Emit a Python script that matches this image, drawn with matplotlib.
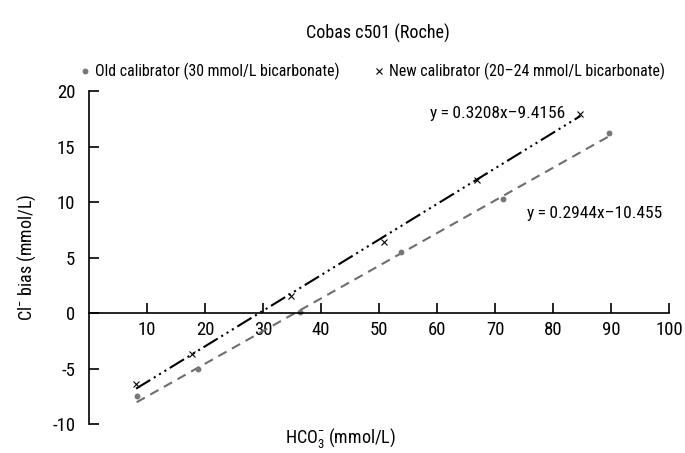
import numpy as np
import matplotlib
matplotlib.use("Agg")
import matplotlib.pyplot as plt
from matplotlib.lines import Line2D

# data
old_x = [8.2, 18.7, 36.4, 53.8, 71.3, 89.7]
old_y = [-7.5, -5.0, 0.1, 5.5, 10.3, 16.2]
new_x = [8.1, 17.7, 34.8, 50.9, 66.8, 84.7]
new_y = [-6.4, -3.7, 1.55, 6.4, 12.0, 17.9]
old_fit = (0.2944, -10.455)
new_fit = (0.3208, -9.4156)
old_label = "Old calibrator (30 mmol/L bicarbonate)"
new_label = "New calibrator (20\u201324 mmol/L bicarbonate)"
xticks = [10, 20, 30, 40, 50, 60, 70, 80, 90, 100]
yticks = [-10, -5, 0, 5, 10, 15, 20]

FONT = 'Roboto Condensed'
plt.rcParams['font.family'] = [FONT, 'DejaVu Sans']
plt.rcParams['mathtext.fontset'] = 'custom'
plt.rcParams['mathtext.rm'] = FONT
plt.rcParams['mathtext.it'] = FONT
plt.rcParams['mathtext.default'] = 'regular'
plt.rcParams['axes.unicode_minus'] = False

fig = plt.figure(figsize=(6.85, 4.53), dpi=100)
ax = fig.add_axes([0.130, 0.064, 0.847, 0.735])

# fitted lines
xo = np.array([old_x[0], old_x[-1]])
xn = np.array([new_x[0], new_x[-1]])
ax.plot(xo, old_fit[0] * xo + old_fit[1], color='#6e6e6e', lw=1.5, dashes=(4.5, 3))
ax.plot(xn, new_fit[0] * xn + new_fit[1], color='black', lw=1.5,
        dashes=(8, 2, 1, 2, 1, 2, 1, 2))

# points
ax.plot(old_x, old_y, 'o', color='#777777', ms=3.2, ls='none')
ax.plot(new_x, new_y, 'x', color='black', ms=4, mew=0.8, ls='none')

ax.text(58.8, 18.0, "y\u2009=\u20090.3208x\u20139.4156", fontsize=12.5, va='center', ha='left')
ax.text(75.5, 9.0, "y\u2009=\u20090.2944x\u201310.455", fontsize=12.5, va='center', ha='left')

ax.set_xlim(0, 100)
ax.set_ylim(-10, 20)
ax.spines['top'].set_visible(False)
ax.spines['right'].set_visible(False)
ax.spines['bottom'].set_position(('data', 0))
ax.spines['left'].set_linewidth(1.2)
ax.spines['bottom'].set_linewidth(1.2)
ax.set_xticks(xticks)
ax.set_yticks(yticks)
ax.tick_params(axis='x', direction='in', length=7, width=1.2, labelsize=13.5, pad=6)
ax.tick_params(axis='y', direction='in', length=7, width=1.2, labelsize=13.5, pad=10)

ax.set_ylabel(r"Cl$^{-}$ bias (mmol/L)", fontsize=13, labelpad=10)
fig.text(0.497, 0.033, r"HCO$_{3}^{-}$ (mmol/L)", fontsize=13, ha='center', va='center')
fig.text(0.552, 0.927, "Cobas c501 (Roche)", fontsize=13, ha='center', va='center')

handles = [Line2D([], [], marker='o', color='#777777', ms=3.2, ls='none'),
           Line2D([], [], marker='x', color='black', ms=4, mew=0.8, ls='none')]
fig.legend(handles, [old_label, new_label], loc='center', bbox_to_anchor=(0.544, 0.842),
           ncol=2, frameon=False, fontsize=11.4, handlelength=0.6, handletextpad=0.3,
           columnspacing=2.2)

fig.savefig("out.png", dpi=100)
